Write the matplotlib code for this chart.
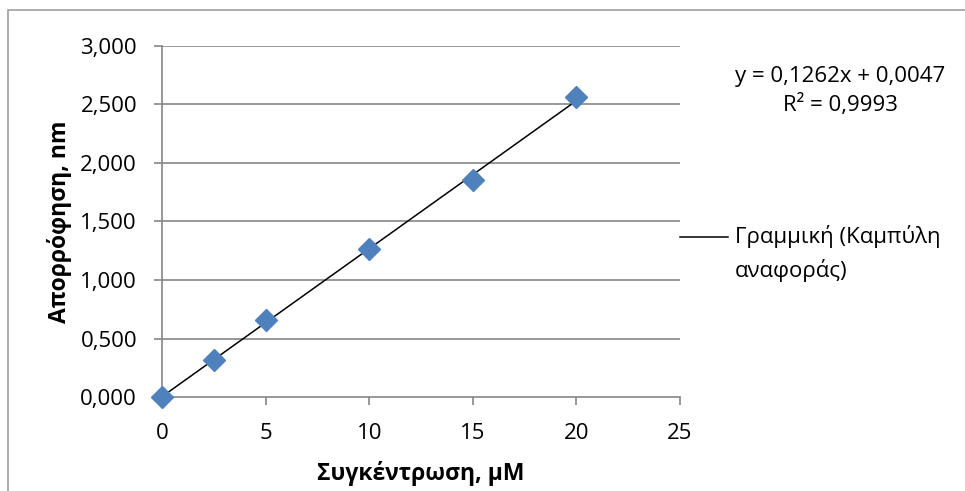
import matplotlib.pyplot as plt
import matplotlib.patches as patches
import numpy as np

plt.rcParams['font.family'] = ['Open Sans', 'DejaVu Sans']

# calibration data
conc = [0, 2.5, 5, 10, 15, 20]
absorb = [0.0, 0.316, 0.660, 1.265, 1.855, 2.562]

x_ticks = [0, 5, 10, 15, 20, 25]
y_ticks = [0, 0.5, 1.0, 1.5, 2.0, 2.5, 3.0]

fig = plt.figure(figsize=(9.65, 4.91), dpi=100)
ax = fig.add_axes([162 / 965, 1 - 397 / 491, (680 - 162) / 965, (397 - 46) / 491])

# outer chart frame (cut off at right/bottom like the screenshot)
fig.patches.append(patches.Rectangle((8 / 965, -0.1), 1.2, 1 - 10 / 491 + 0.1,
                                     transform=fig.transFigure, fill=False,
                                     edgecolor='#a0a0a0', linewidth=1.2))

grid_c = '#868686'
for yt in y_ticks[1:]:
    ax.axhline(yt, color=grid_c, lw=1.2, zorder=1)

# linear fit
k, b = np.polyfit(conc, absorb, 1)
xs = np.array([conc[0], conc[-1]])
ax.plot(xs, k * xs + b, color='black', lw=1.1, zorder=3)

ax.plot(conc, absorb, 'D', color='#4F81BD', ms=11, markeredgecolor='#4F81BD',
        zorder=4, clip_on=False)

ax.set_xlim(0, 25)
ax.set_ylim(0, 3)
ax.set_xticks(x_ticks)
ax.set_yticks(y_ticks)
ax.set_xticklabels([str(t) for t in x_ticks])
ax.set_yticklabels([('%.3f' % t).replace('.', ',') for t in y_ticks])
for s in ['top', 'right']:
    ax.spines[s].set_visible(False)
for s in ['left', 'bottom']:
    ax.spines[s].set_color(grid_c)
    ax.spines[s].set_linewidth(1.2)
ax.tick_params(axis='both', direction='out', length=6, width=1.2, color=grid_c,
               labelsize=16)
ax.tick_params(axis='y', pad=12)
ax.tick_params(axis='x', pad=13)

ax.set_xlabel('Συγκέντρωση, μM', fontsize=16.5, fontweight='bold', labelpad=12)
ax.set_ylabel('Απορρόφηση, nm', fontsize=16.5, fontweight='bold', labelpad=6)

fig.text(840 / 965, 1 - 91 / 491, 'y = 0,1262x + 0,0047\nR² = 0,9993',
         ha='center', va='center', fontsize=16, linespacing=1.4)

# legend entry for trend line
fig.add_artist(plt.Line2D([680 / 965, 728 / 965], [1 - 237 / 491, 1 - 237 / 491],
                          color='black', lw=1.1, transform=fig.transFigure))
fig.text(735 / 965, 1 - 237 / 491, 'Γραμμική (Καμπύλη', ha='left', va='center', fontsize=16)
fig.text(735 / 965, 1 - 270 / 491, 'αναφοράς)', ha='left', va='center', fontsize=16)

fig.savefig('out.png', dpi=100)
